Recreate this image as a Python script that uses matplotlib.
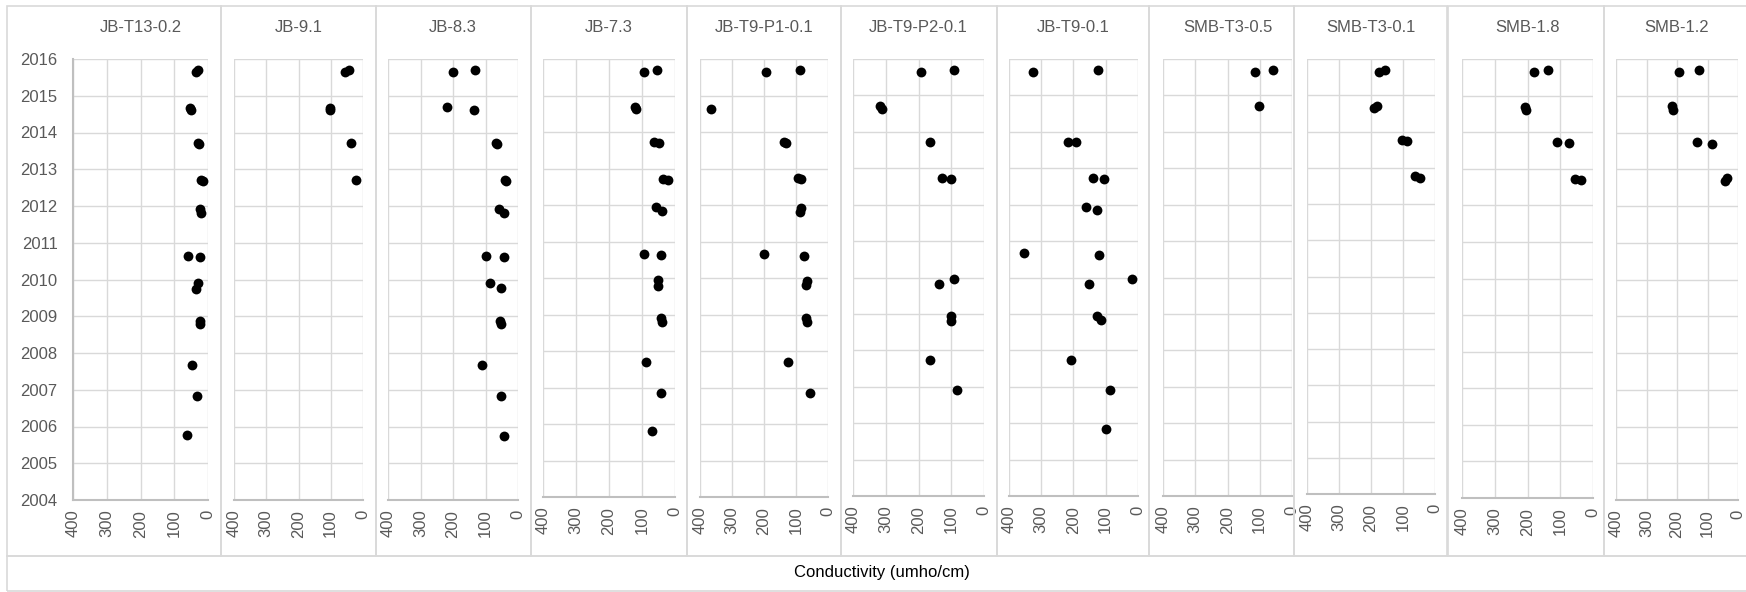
import matplotlib
matplotlib.use("Agg")
from matplotlib import pyplot as plt
from matplotlib.patches import Rectangle

plt.rcParams['font.family'] = ['Liberation Sans', 'DejaVu Sans']

# station names, left to right
titles = ['JB-T13-0.2', 'JB-9.1', 'JB-8.3', 'JB-7.3', 'JB-T9-P1-0.1',
          'JB-T9-P2-0.1', 'JB-T9-0.1', 'SMB-T3-0.5', 'SMB-T3-0.1',
          'SMB-1.8', 'SMB-1.2']

# sample date (decimal year) and conductivity (umho/cm) per station
jb_t13_year = [2015.65, 2015.70, 2014.67, 2014.60, 2013.71, 2013.70, 2012.70,
               2012.69, 2011.91, 2011.82, 2010.64, 2010.60, 2009.90, 2009.75,
               2008.88, 2008.78, 2007.66, 2006.83, 2005.77]
jb_t13_cond = [36, 30, 52, 50, 29, 27, 20, 16, 25, 21, 60, 25, 29, 37,
               23, 23, 48, 32, 61]

jb_91_year = [2015.64, 2015.69, 2014.67, 2014.60, 2013.71, 2012.70]
jb_91_cond = [57, 43, 103, 103, 36, 23]

jb_83_year = [2015.65, 2015.69, 2014.69, 2014.61, 2013.71, 2013.69, 2012.71,
              2012.69, 2011.92, 2011.81, 2010.64, 2010.60, 2009.90, 2009.76,
              2008.87, 2008.80, 2007.66, 2006.82, 2005.75]
jb_83_cond = [200, 131, 220, 135, 69, 65, 39, 36, 57, 42, 98, 42, 85, 53,
              55, 53, 111, 52, 44]

jb_73_year = [2015.64, 2015.69, 2014.68, 2014.64, 2013.72, 2013.71, 2012.71,
              2012.69, 2011.94, 2011.84, 2010.67, 2010.62, 2009.94, 2009.78,
              2008.90, 2008.80, 2007.71, 2006.86, 2005.80]
jb_73_cond = [93, 55, 120, 118, 65, 50, 37, 22, 57, 40, 93, 41, 53, 53,
              43, 40, 88, 42, 70]

jb_p1_year = [2015.64, 2015.69, 2014.62, 2013.73, 2013.70, 2012.73, 2012.70,
              2011.92, 2011.82, 2010.67, 2010.61, 2009.93, 2009.80, 2008.90,
              2008.80, 2007.71, 2006.86]
jb_p1_cond = [195, 88, 365, 136, 132, 93, 85, 85, 88, 201, 76, 65, 69,
              70, 67, 126, 57]

jb_p2_year = [2015.64, 2015.69, 2014.71, 2014.62, 2013.73, 2012.74, 2012.70,
              2009.95, 2009.81, 2008.95, 2008.81, 2007.74, 2006.91]
jb_p2_cond = [191, 91, 319, 310, 164, 129, 101, 93, 136, 100, 101, 165, 81]

jb_t9_year = [2015.64, 2015.69, 2013.73, 2013.72, 2012.72, 2012.70, 2011.94,
              2011.85, 2010.68, 2010.63, 2009.95, 2009.81, 2008.93, 2008.83,
              2007.74, 2006.91, 2005.84]
jb_t9_cond = [325, 125, 216, 191, 141, 106, 162, 128, 355, 121, 18, 151,
              126, 115, 208, 87, 99]

smb_t305_year = [2015.64, 2015.71, 2014.70]
smb_t305_cond = [114, 60, 101]

smb_t301_year = [2015.65, 2015.70, 2014.65, 2014.71, 2013.76, 2013.73,
                 2012.76, 2012.71]
smb_t301_cond = [174, 157, 190, 182, 104, 86, 61, 47]

smb_18_year = [2015.64, 2015.70, 2014.69, 2014.60, 2013.73, 2013.70,
               2012.73, 2012.70]
smb_18_cond = [180, 137, 207, 205, 110, 73, 54, 36]

smb_12_year = [2015.64, 2015.70, 2014.71, 2014.60, 2013.73, 2013.70,
               2012.67, 2012.75]
smb_12_cond = [193, 127, 215, 212, 134, 86, 43, 36]

series = [(jb_t13_year, jb_t13_cond), (jb_91_year, jb_91_cond),
          (jb_83_year, jb_83_cond), (jb_73_year, jb_73_cond),
          (jb_p1_year, jb_p1_cond), (jb_p2_year, jb_p2_cond),
          (jb_t9_year, jb_t9_cond), (smb_t305_year, smb_t305_cond),
          (smb_t301_year, smb_t301_cond), (smb_18_year, smb_18_cond),
          (smb_12_year, smb_12_cond)]

x_ticks = [400, 300, 200, 100, 0]
y_ticks = list(range(2004, 2017))
x_label = 'Conductivity (umho/cm)'

# layout in pixels: panel border (left, right), plot area (left, right, bottom)
W, H = 1746, 592
border_lr = [(7, 221), (221, 376), (376, 531), (531, 687), (687, 841),
             (841, 997), (997, 1149), (1149, 1294), (1294, 1447),
             (1448, 1604), (1604, 1760)]
plot_lr = [(73, 208), (234, 363), (388, 518), (543, 675), (700, 828),
           (853, 984), (1009, 1138), (1163, 1292), (1307, 1435),
           (1462, 1593), (1616, 1738)]
plot_bottom = [500, 500, 500, 497, 497, 496, 496, 496, 494, 498, 500]
plot_top = 59

grid_c = '#d9d9d9'
axis_c = '#bfbfbf'
text_c = '#595959'

fig = plt.figure(figsize=(W / 100, H / 100), dpi=100)

for i, title in enumerate(titles):
    bl, br = border_lr[i]
    fig.add_artist(Rectangle((bl / W, 1 - 556 / H), (br - bl) / W, 550 / H,
                             transform=fig.transFigure, fill=False,
                             edgecolor=grid_c, lw=1.2))

    pl, pr = plot_lr[i]
    pb = plot_bottom[i]
    ax = fig.add_axes([pl / W, 1 - pb / H, (pr - pl) / W, (pb - plot_top) / H])
    years, cond = series[i]
    ax.scatter(cond, years, s=50, color='black', zorder=3, clip_on=False,
               linewidths=0)

    ax.set_xlim(400, 0)
    ax.set_ylim(2004, 2016)
    ax.set_xticks(x_ticks)
    ax.set_yticks(y_ticks)
    ax.grid(True, color=grid_c, lw=1.0)
    ax.set_axisbelow(True)
    for s in ['top', 'right', 'left']:
        ax.spines[s].set_visible(False)
    ax.spines['bottom'].set_color(axis_c)
    ax.spines['bottom'].set_linewidth(1.5)
    ax.tick_params(length=0, labelsize=12, labelcolor=text_c)
    ax.tick_params(axis='x', labelrotation=90, pad=7)
    if i == 0:
        ax.spines['left'].set_visible(True)
        ax.spines['left'].set_color(axis_c)
        ax.spines['left'].set_linewidth(1.5)
        ax.tick_params(axis='y', pad=11)
    else:
        ax.set_yticklabels([])

    fig.text((pl + pr) / 2 / W, 1 - 27 / H, title, ha='center', va='center',
             fontsize=12, color=text_c)

# shared axis title box
fig.add_artist(Rectangle((7 / W, 1 - 591 / H), 1750 / W, 35 / H,
                         transform=fig.transFigure, fill=False,
                         edgecolor=grid_c, lw=1.2))
fig.text(882 / W, 1 - 573 / H, x_label, ha='center', va='center',
         fontsize=12, color='black')

plt.savefig('out.png', dpi=100)
